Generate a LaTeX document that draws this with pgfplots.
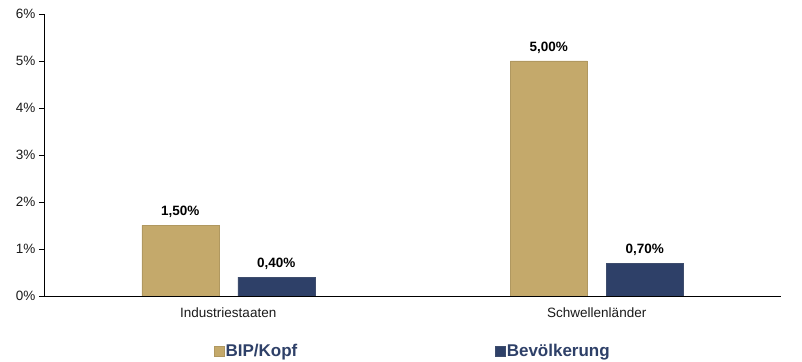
\documentclass[border=0pt]{standalone}
\usepackage{pgfplots}
\pgfplotsset{compat=1.18}
\usepackage{fontspec}
\setmainfont{Liberation Sans}
\definecolor{gold}{HTML}{C4A96B}
\definecolor{navy}{HTML}{2E4068}
\definecolor{txt}{HTML}{1A1A1A}
\begin{document}
\begin{tikzpicture}
\begin{axis}[name=ax,
  scale only axis, width=737pt, height=282pt,
  ymin=0, ymax=6, ytick={0,1,...,6},
  yticklabel={\pgfmathprintnumber{\tick}\%},
  xmin=-0.5, xmax=1.5,
  xtick={0,1}, xticklabels={Industriestaaten,Schwellenländer},
  extra x ticks={-0.5,0.5,1.5}, extra x tick labels={},
  extra x tick style={major tick length=5pt, tick style={black, line width=0.8pt}},
  x tick style={draw=none},
  y tick style={black, line width=0.8pt},
  major tick length=5pt,
  axis x line*=bottom, axis y line*=left,
  axis line style={black, line width=0.8pt, -},
  tick align=outside,
  ticklabel style={font=\fontsize{13.5}{15}\selectfont, text=txt},
  xticklabel style={yshift=-3pt},
  /pgf/number format/assume math mode=true,
  ybar=19pt, bar width=77pt,
  nodes near coords={\pgfmathprintnumber[fixed,fixed zerofill,precision=2,use comma]{\pgfplotspointmeta}\%},
  nodes near coords style={font=\bfseries\fontsize{13.5}{15}\selectfont, text=black, yshift=4pt},
  legend style={at={(0.5,-0.155)}, anchor=north, draw=none, legend columns=2,
    font=\bfseries\fontsize{17}{19}\selectfont, text=navy,
    nodes={inner xsep=1.5pt},
    /tikz/every even column/.append style={column sep=196pt}},
  legend image code/.code={\fill[#1] (0pt,-5pt) rectangle (10pt,5pt);},
]
\addplot[fill=gold, draw=gold!90!black] coordinates {(0,1.5) (1,5.0)};
\addplot[fill=navy, draw=navy!80!gray] coordinates {(0,0.4) (1,0.7)};
\legend{BIP/Kopf,Bevölkerung}
\end{axis}
\path[use as bounding box] ([xshift=-44pt,yshift=-66pt]ax.south west) rectangle ([xshift=21pt,yshift=14pt]ax.north east);
\end{tikzpicture}
\end{document}
